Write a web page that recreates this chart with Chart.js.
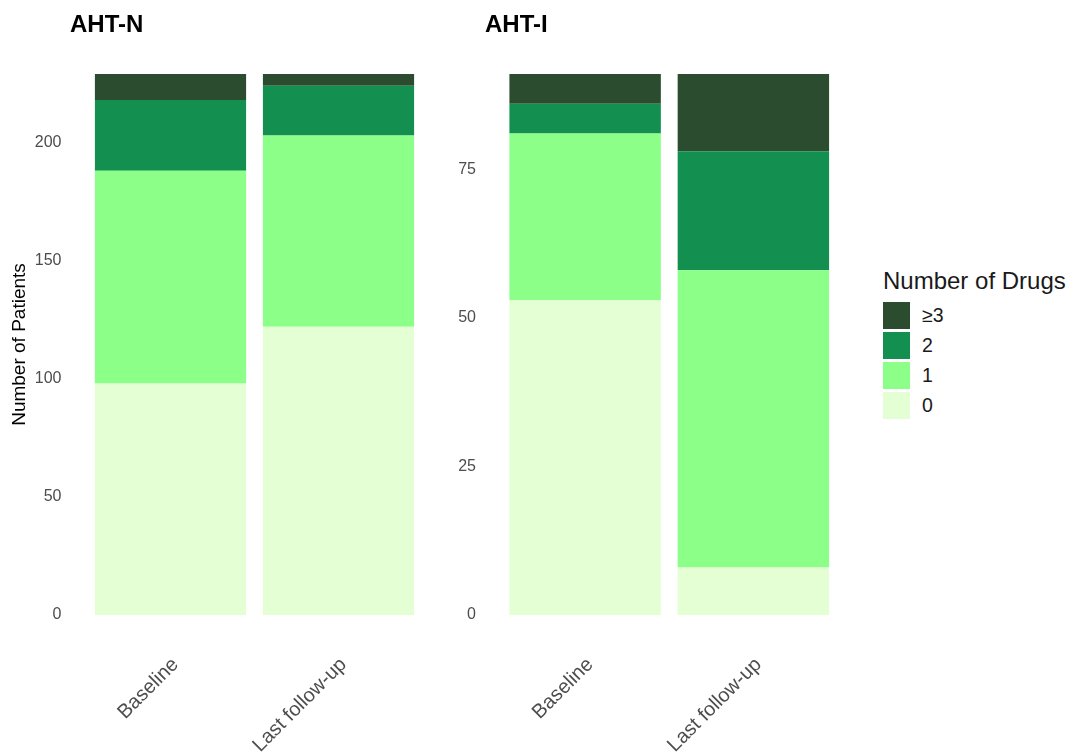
<!DOCTYPE html>
<html>
<head>
<meta charset="utf-8">
<script src="https://cdn.jsdelivr.net/npm/chart.js@4.4.1/dist/chart.umd.min.js"></script>
<style>
  html, body { margin: 0; padding: 0; background: #ffffff; }
  body { width: 1070px; height: 753px; position: relative; overflow: hidden; font-family: "Liberation Sans", Arial, sans-serif; }
  .wrap { position: absolute; top: 0; height: 753px; }
  .ptitle { position: absolute; top: 10px; font-weight: bold; font-size: 24px; color: #000; }
  #legend { position: absolute; left: 883px; top: 267px; color: #1a1a1a; }
  #legend .lt { font-size: 24px; line-height: 28px; margin-bottom: 5px; white-space: nowrap; }
  #legend .row { display: flex; align-items: center; height: 30px; }
  #legend .key { width: 27px; height: 27px; margin-right: 12px; }
  #legend .lab { font-size: 19.5px; }
</style>
</head>
<body>
<div class="wrap" style="left:0;width:440px;"><canvas id="c1"></canvas></div>
<div class="wrap" style="left:440px;width:440px;"><canvas id="c2"></canvas></div>
<div class="ptitle" style="left:70px;">AHT-N</div>
<div class="ptitle" style="left:485px;">AHT-I</div>
<div id="legend"></div>
<script>
// ---- data ----
const categories = ["Baseline", "Last follow-up"];
const seriesNames = ["0", "1", "2", "\u22653"];
const seriesColors = ["#e5ffd4", "#8bff88", "#13904f", "#2b4c2f"];
// AHT-N panel
const ahtN_0 = [98, 122];
const ahtN_1 = [90, 81];
const ahtN_2 = [30, 21];
const ahtN_3 = [11, 5];
// AHT-I panel
const ahtI_0 = [53, 8];
const ahtI_1 = [28, 50];
const ahtI_2 = [5, 20];
const ahtI_3 = [5, 13];
const panelTitles = ["AHT-N", "AHT-I"];
const yStepN = 50;
const yStepI = 25;
const yTitle = "Number of Patients";
const legendTitle = "Number of Drugs";

const FONT = "'Liberation Sans', Arial, sans-serif";
const TICK_COLOR = "#4d4d4d";

function totals(arrs) {
  return categories.map((_, i) => arrs.reduce((s, a) => s + a[i], 0));
}

function makeChart(id, arrs, step, opts) {
  const maxV = Math.max(...totals(arrs));
  const datasets = arrs.map((a, k) => ({
    label: seriesNames[k],
    data: a,
    backgroundColor: seriesColors[k],
    borderWidth: 0,
    barPercentage: 0.9,
    categoryPercentage: 1.0
  }));
  return new Chart(document.getElementById(id), {
    type: 'bar',
    data: { labels: categories, datasets },
    options: {
      responsive: true,
      maintainAspectRatio: false,
      animation: false,
      layout: { padding: { top: 74, right: opts.padRight, left: 0, bottom: 0 } },
      plugins: { legend: { display: false }, tooltip: { enabled: false }, title: { display: false } },
      scales: {
        x: {
          stacked: true,
          grid: { display: false, drawTicks: false },
          border: { display: false },
          ticks: {
            color: TICK_COLOR, font: { family: FONT, size: 20 },
            maxRotation: 45, minRotation: 45, padding: 38, labelOffset: 5, autoSkip: false
          },
          afterFit: (s) => { s.height = 138; }
        },
        y: {
          stacked: true,
          min: 0, max: maxV,
          grid: { display: false, drawTicks: false },
          border: { display: false },
          ticks: { stepSize: step, color: TICK_COLOR, font: { family: FONT, size: 16 }, padding: 25 },
          afterBuildTicks: (s) => { s.ticks = s.ticks.filter(t => Math.abs(t.value / step - Math.round(t.value / step)) < 1e-9); },
          title: opts.showTitle ? { display: true, text: yTitle, color: "#000", font: { family: FONT, size: 19 }, padding: { top: 8, bottom: 0 } } : { display: false },
          afterFit: (s) => { s.width = opts.yWidth; }
        }
      }
    }
  });
}

makeChart('c1', [ahtN_0, ahtN_1, ahtN_2, ahtN_3], yStepN, { padRight: 17.5, yWidth: 86.5, showTitle: true });
makeChart('c2', [ahtI_0, ahtI_1, ahtI_2, ahtI_3], yStepI, { padRight: 42.5, yWidth: 61, showTitle: false });

// legend (built from series arrays, top series first)
const lg = document.getElementById('legend');
const t = document.createElement('div'); t.className = 'lt'; t.textContent = legendTitle; lg.appendChild(t);
for (let k = seriesNames.length - 1; k >= 0; k--) {
  const r = document.createElement('div'); r.className = 'row';
  const b = document.createElement('div'); b.className = 'key'; b.style.background = seriesColors[k];
  const l = document.createElement('div'); l.className = 'lab'; l.textContent = seriesNames[k];
  r.appendChild(b); r.appendChild(l); lg.appendChild(r);
}
</script>
</body>
</html>
